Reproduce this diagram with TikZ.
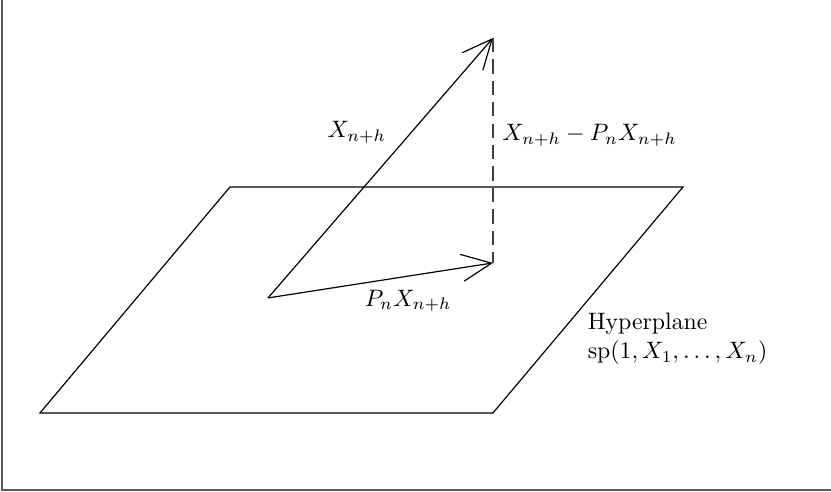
\documentclass[tikz,border=0pt]{standalone}
\usepackage{amsmath,amssymb}
\usepackage{tikz}
\usetikzlibrary{arrows.meta, positioning, calc}
\tikzset{
  vecarrow/.style={-{Straight Barb[length=4.4mm,width=4mm]}, line width=0.5pt},
  projline/.style={dash pattern=on 6pt off 3pt, line width=0.5pt, black!75},
  plane/.style={line width=0.5pt},
  framebox/.style={black!65, line width=0.9pt},
  lbl/.style={inner sep=1pt},
}

\begin{document}
\begin{tikzpicture}
\useasboundingbox (0,0) rectangle (12.275,7.267);
\draw[framebox] (0.03,7.267) -- (0.03,0.03) -- (12.275,0.03);
% hyperplane
\coordinate (pa) at (0.591,1.167);
\coordinate (pb) at (7.282,1.167);
\coordinate (pc) at (10.089,4.505);
\coordinate (pd) at (3.397,4.505);
\draw[plane] (pa) -- (pb) -- (pc) -- (pd) -- cycle;
% vectors
\coordinate (o) at (3.959,2.866);
\coordinate (proj) at (7.282,3.383);
\coordinate (tip) at (7.282,6.706);
\draw[vecarrow] (o) -- (tip);
\draw[vecarrow] (o) -- (proj);
\draw[projline] (tip) -- (proj);
% labels
\node (xlab) [lbl] at (5.27,5.31) {$X_{n+h}$};
\node (elab) [lbl, anchor=west] at (7.38,5.27) {$X_{n+h}-P_nX_{n+h}$};
\node (plab) [lbl] at (6.03,2.82) {$P_nX_{n+h}$};
\node (hlab) [lbl, anchor=west, align=left] at (8.64,2.26) {Hyperplane\\ $\mathrm{sp}(1,X_1,\ldots,X_n)$};
\end{tikzpicture}
\end{document}
